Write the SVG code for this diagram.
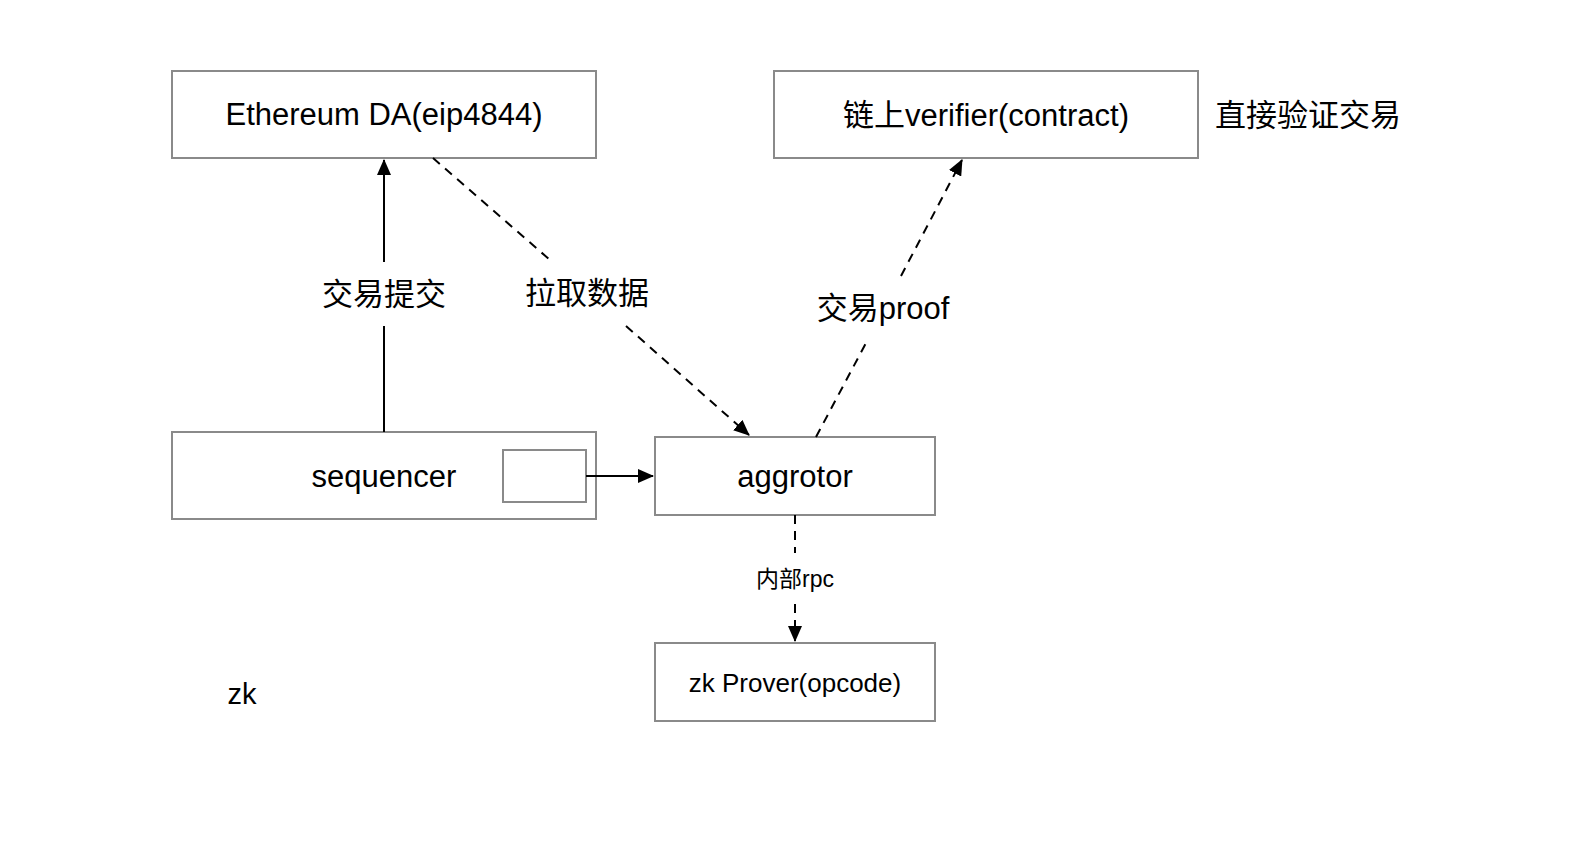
<svg xmlns="http://www.w3.org/2000/svg" width="1576" height="850" viewBox="0 0 1576 850">
<style>
.box{fill:#fff;stroke:#8a8a8a;stroke-width:2}
.t{font-family:"Liberation Sans","Noto Sans CJK SC",sans-serif;fill:#000;text-anchor:middle}
.c{stroke:#000;stroke-width:2;fill:none}
.d{stroke-dasharray:9 7}
</style>
<defs>
<marker id="ah" viewBox="0 0 16 14" refX="15" refY="7" markerWidth="16" markerHeight="14" markerUnits="userSpaceOnUse" orient="auto">
<path d="M0,0 L16,7 L0,14 Z" fill="#000"/>
</marker>
</defs>
<rect width="1576" height="850" fill="#fff"/>
<g id="da">
<rect class="box" x="172" y="71" width="424" height="87"/>
<text class="t" x="384" y="125" font-size="31">Ethereum DA(eip4844)</text>
</g>
<g id="verifier">
<rect class="box" x="774" y="71" width="424" height="87"/>
<text class="t" x="986" y="126" font-size="31">链上verifier(contract)</text>
</g>
<g id="note">
<text class="t" x="1308" y="126" font-size="31">直接验证交易</text>
</g>
<g id="sequencer">
<rect class="box" x="172" y="432" width="424" height="87"/>
<text class="t" x="384" y="487" font-size="31">sequencer</text>
<rect class="box" x="503" y="450" width="83" height="52"/>
</g>
<g id="aggrotor">
<rect class="box" x="655" y="437" width="280" height="78"/>
<text class="t" x="795" y="487" font-size="31">aggrotor</text>
</g>
<g id="prover">
<rect class="box" x="655" y="643" width="280" height="78"/>
<text class="t" x="795" y="692" font-size="26">zk Prover(opcode)</text>
</g>
<g id="zk">
<text class="t" x="242" y="704" font-size="29">zk</text>
</g>
<g id="connectors">
<line class="c" x1="384" y1="432" x2="384" y2="326"/>
<line class="c" x1="384" y1="262" x2="384" y2="160" marker-end="url(#ah)"/>
<text class="t" x="384" y="305" font-size="31">交易提交</text>
<line class="c d" x1="433" y1="158" x2="550" y2="260"/>
<line class="c d" x1="626" y1="326" x2="749" y2="435" marker-end="url(#ah)"/>
<text class="t" x="587" y="304" font-size="31">拉取数据</text>
<line class="c d" x1="816" y1="437" x2="866" y2="343"/>
<line class="c d" x1="901" y1="276" x2="962" y2="160" marker-end="url(#ah)"/>
<text class="t" x="883" y="319" font-size="31">交易proof</text>
<line class="c" x1="586" y1="476" x2="653" y2="476" marker-end="url(#ah)"/>
<line class="c d" x1="795" y1="515" x2="795" y2="553"/>
<line class="c d" x1="795" y1="604" x2="795" y2="641" marker-end="url(#ah)"/>
<text class="t" x="795" y="587" font-size="23">内部rpc</text>
</g>
</svg>
